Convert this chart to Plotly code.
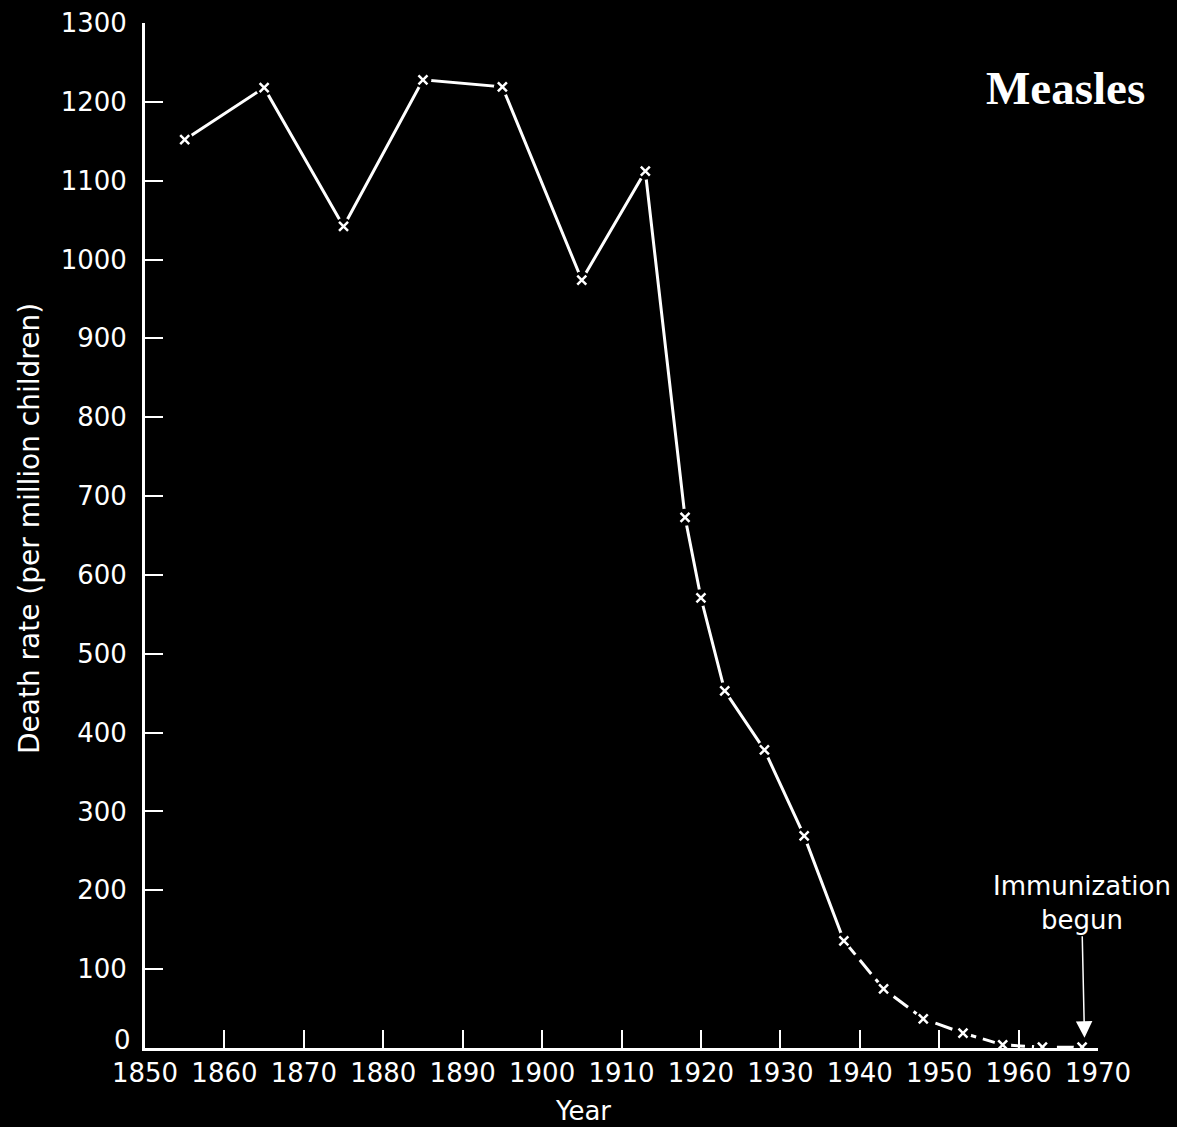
import plotly.graph_objects as go

years = [1855, 1865, 1875, 1885, 1895, 1905, 1913, 1918, 1920, 1923, 1928, 1933,
         1938, 1943, 1948, 1953, 1958, 1963, 1968]
death_rate = [1152, 1218, 1042, 1228, 1219, 974, 1112, 673, 571, 453, 378, 269,
              136, 75, 37, 19, 4, 1, 1]
x_ticks = list(range(1850, 1971, 10))
y_ticks = list(range(0, 1301, 100))

split = years.index(1938)

FONT = "DejaVu Sans"
fig = go.Figure()

# solid part
fig.add_trace(go.Scatter(
    x=years[:split + 1], y=death_rate[:split + 1], mode="lines",
    line=dict(color="white", width=3), hoverinfo="skip", showlegend=False))
# dashed tail
fig.add_trace(go.Scatter(
    x=years[split:], y=death_rate[split:], mode="lines",
    line=dict(color="white", width=3, dash="18px,7px"), hoverinfo="skip", showlegend=False))
# gaps around markers
fig.add_trace(go.Scatter(
    x=years, y=death_rate, mode="markers",
    marker=dict(symbol="circle", size=17, color="black", line=dict(width=0)),
    hoverinfo="skip", showlegend=False))
# x markers
fig.add_trace(go.Scatter(
    x=years, y=death_rate, mode="markers",
    marker=dict(symbol="x-thin", size=9, color="white", line=dict(color="white", width=2.5)),
    showlegend=False))

y_text = ["" if v == 0 else str(v) for v in y_ticks]

fig.update_layout(
    width=1177, height=1127,
    paper_bgcolor="black", plot_bgcolor="black",
    margin=dict(l=145, r=79, t=23, b=79),
    font=dict(family=FONT, color="white", size=26),
    xaxis=dict(range=[1850, 1970], tickvals=x_ticks, ticktext=[str(v) for v in x_ticks],
               ticks="inside", ticklen=18, tickwidth=2, tickcolor="white",
               showline=True, linecolor="white", linewidth=3, showgrid=False, zeroline=False,
               tickfont=dict(family=FONT, size=26, color="white"), automargin=False),
    yaxis=dict(range=[0, 1300], tickvals=y_ticks, ticktext=y_text,
               ticks="inside", ticklen=18, tickwidth=2, tickcolor="white",
               showline=True, linecolor="white", linewidth=3, showgrid=False, zeroline=False,
               tickfont=dict(family=FONT, size=26, color="white"), automargin=False,
               ticklabelstandoff=10),
    annotations=[
        # zero tick label (raised, as in the original)
        dict(x=0, y=0, xref="paper", yref="y", text="0", showarrow=False,
             xanchor="right", yanchor="middle", xshift=-12, yshift=8,
             font=dict(family=FONT, size=26, color="white")),
        # y axis title
        dict(x=0, y=0.5063, xref="paper", yref="paper",
             text="Death rate (per million children)", showarrow=False, textangle=-90,
             xanchor="center", yanchor="middle", xshift=-116,
             font=dict(family=FONT, size=28, color="white")),
        # x axis title
        dict(x=(583 - 145) / 953, y=0, xref="paper", yref="paper",
             text="Year", showarrow=False, xanchor="center", yanchor="middle", yshift=-63,
             font=dict(family=FONT, size=26, color="white")),
        dict(x=(1065 - 145) / 953, y=1 - (88 - 23) / 1025, xref="paper", yref="paper",
             text="<b>Measles</b>", showarrow=False,
             font=dict(family="Liberation Serif", size=47, color="white"),
             xanchor="center", yanchor="middle"),
        dict(x=1968.3, y=13, xref="x", yref="y",
             text="Immunization<br>begun", showarrow=True,
             ax=-3, ay=-135, axref="pixel", ayref="pixel",
             arrowhead=2, arrowsize=2.2, arrowwidth=1.5, arrowcolor="white",
             font=dict(family=FONT, size=26, color="white"), align="center"),
    ],
)

fig.write_html("out.html", config={"displayModeBar": False},
               post_script="document.body.style.margin='0';document.body.style.background='black';")
